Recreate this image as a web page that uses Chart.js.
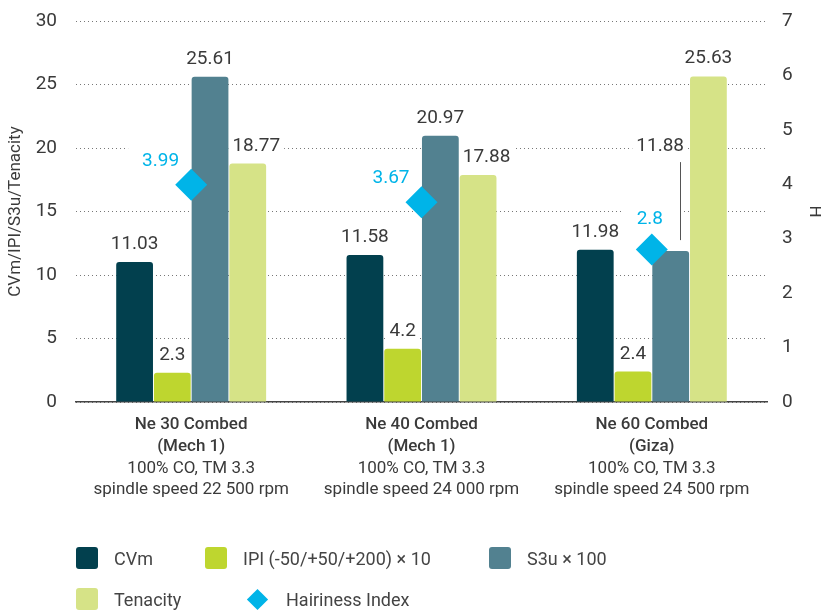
<!DOCTYPE html>
<html>
<head>
<meta charset="utf-8">
<script src="https://cdn.jsdelivr.net/npm/chart.js@4.4.0/dist/chart.umd.min.js"></script>
<style>
  body { margin: 0; background: #fff; }
  #wrap { position: relative; width: 821px; height: 612px; }
  #legend { position: absolute; left: 0; top: 0; font: 18px Roboto, sans-serif; color: #444; }
  .item { position: absolute; display: flex; align-items: center; height: 22px; white-space: nowrap; }
  .box { width: 22px; height: 22px; border-radius: 3px; margin-right: 16px; }
  .diamond { width: 15px; height: 15px; background: #00b4e8; transform: rotate(45deg); margin: 0 21px 0 3px; }
</style>
</head>
<body>
<div id="wrap">
  <canvas id="chart"></canvas>
  <div id="legend"></div>
</div>
<script>
const categories = [
  ['Ne 30 Combed', '(Mech 1)', '100% CO, TM 3.3', 'spindle speed 22 500 rpm'],
  ['Ne 40 Combed', '(Mech 1)', '100% CO, TM 3.3', 'spindle speed 24 000 rpm'],
  ['Ne 60 Combed', '(Giza)', '100% CO, TM 3.3', 'spindle speed 24 500 rpm']
];
const cvm = [11.03, 11.58, 11.98];
const ipi = [2.3, 4.2, 2.4];
const s3u = [25.61, 20.97, 11.88];
const tenacity = [18.77, 17.88, 25.63];
const hairiness = [3.99, 3.67, 2.8];
const leftTicks = [0, 5, 10, 15, 20, 25, 30];
const rightTicks = [0, 1, 2, 3, 4, 5, 6, 7];

const COLORS = {
  cvm: '#02404e',
  ipi: '#bed62f',
  s3u: '#528190',
  tenacity: '#d6e387',
  hi: '#00b4e8'
};
const FONT = 'Roboto, sans-serif';
const LABEL_FONT = '19px ' + FONT;
const TEXT = '#3a3a3a';

// label boxes computed once per draw, used for backdrops and text
let labelLayout = [];

function layoutLabels(chart) {
  const ctx = chart.ctx;
  ctx.save();
  ctx.font = LABEL_FONT;
  const out = [];
  const barBoxes = [];
  for (let j = 0; j < categories.length; j++) {
    const els = [0, 1, 2, 3].map(i => chart.getDatasetMeta(i).data[j]);
    els.forEach((el, i) => {
      const value = chart.data.datasets[i].data[j];
      const text = String(value);
      const w = ctx.measureText(text).width;
      let cx = el.x;
      let base = el.y - 13;
      let leader = null;
      const ln = els[i - 1];
      const rn = els[i + 1];
      if (ln && ln.y < el.y - 5 && cx - w / 2 < ln.x + ln.width / 2 + 2) {
        cx = ln.x + ln.width / 2 + 4 + w / 2;
      } else if (rn && rn.y < el.y - 5 && cx + w / 2 > rn.x - rn.width / 2) {
        const right = rn.x - rn.width / 2 - 6;
        cx = right - w / 2;
        base = el.y - 100;
        leader = { x: right - 4, y1: base + 11, y2: el.y - 11 };
      }
      const box = { x1: cx - w / 2, x2: cx + w / 2, y1: base - 14, y2: base };
      barBoxes.push(box);
      out.push({ text, x: cx, y: base, color: TEXT, leader,
        bg: { x1: box.x1 - 4, x2: box.x2 + 4, y1: box.y1 - 4, y2: box.y2 + 4 } });
    });
  }
  const hiMeta = chart.getDatasetMeta(4);
  hiMeta.data.forEach((pt, j) => {
    const text = String(hairiness[j]);
    const w = ctx.measureText(text).width;
    let box = { x1: pt.x - 12 - w, x2: pt.x - 12, y1: pt.y - 19 - 14, y2: pt.y - 19 };
    const hit = barBoxes.some(b => b.x1 < box.x2 && b.x2 > box.x1 && b.y1 < box.y2 && b.y2 > box.y1);
    let cx = pt.x - 12 - w / 2;
    let base = pt.y - 19;
    if (hit) {
      cx = pt.x - 2;
      base = pt.y - 26;
      box = { x1: cx - w / 2, x2: cx + w / 2, y1: base - 14, y2: base };
    }
    out.push({ text, x: cx, y: base, color: COLORS.hi, leader: null,
      bg: { x1: box.x1 - 14, x2: box.x2 + 14, y1: box.y1 - 9, y2: box.y2 + 3 } });
  });
  ctx.restore();
  return out;
}

const labelPlugin = {
  id: 'valueLabels',
  beforeDatasetsDraw(chart) {
    labelLayout = layoutLabels(chart);
    const ctx = chart.ctx;
    ctx.save();
    ctx.fillStyle = '#fff';
    labelLayout.forEach(l => {
      ctx.fillRect(l.bg.x1, l.bg.y1, l.bg.x2 - l.bg.x1, l.bg.y2 - l.bg.y1);
    });
    ctx.restore();
  },
  afterDatasetsDraw(chart) {
    const ctx = chart.ctx;
    ctx.save();
    ctx.font = LABEL_FONT;
    ctx.textAlign = 'center';
    ctx.textBaseline = 'alphabetic';
    labelLayout.forEach(l => {
      ctx.fillStyle = l.color;
      ctx.fillText(l.text, l.x, l.y);
      if (l.leader) {
        ctx.strokeStyle = '#555';
        ctx.lineWidth = 1;
        ctx.beginPath();
        ctx.moveTo(Math.round(l.leader.x) + 0.5, l.leader.y1);
        ctx.lineTo(Math.round(l.leader.x) + 0.5, l.leader.y2);
        ctx.stroke();
      }
    });
    ctx.restore();
  },
  afterDraw(chart) {
    const ctx = chart.ctx;
    const xs = chart.scales.x;
    const area = chart.chartArea;
    ctx.save();
    ctx.fillStyle = TEXT;
    ctx.textAlign = 'center';
    ctx.textBaseline = 'middle';
    categories.forEach((lines, j) => {
      const x = xs.getPixelForValue(j);
      lines.forEach((line, k) => {
        ctx.font = (k < 2 ? '500 ' : '') + '17px ' + FONT;
        ctx.fillText(line, x, area.bottom + 23 + k * 21.7);
      });
    });
    // axis titles
    const midY = (area.top + area.bottom) / 2;
    ctx.font = '17px ' + FONT;
    ctx.translate(16, midY);
    ctx.rotate(-Math.PI / 2);
    ctx.fillText('CVm/IPI/S3u/Tenacity', 0, 0);
    ctx.setTransform(1, 0, 0, 1, 0, 0);
    ctx.translate(814, midY);
    ctx.rotate(Math.PI / 2);
    ctx.fillText('H', 0, 0);
    ctx.restore();
  }
};

function barSet(label, data, color) {
  return {
    type: 'bar',
    label,
    data,
    backgroundColor: color,
    borderWidth: 0,
    borderRadius: 3,
    borderSkipped: 'bottom',
    yAxisID: 'y',
    order: 1,
    categoryPercentage: 0.655,
    barPercentage: 0.975
  };
}

function fitSide(width) {
  return axis => {
    axis.width = width;
    axis.paddingTop = 0;
    axis.paddingBottom = 0;
  };
}

new Chart(document.getElementById('chart'), {
  type: 'bar',
  data: {
    labels: categories.map(c => c[0]),
    datasets: [
      barSet('CVm', cvm, COLORS.cvm),
      barSet('IPI (-50/+50/+200) × 10', ipi, COLORS.ipi),
      barSet('S3u × 100', s3u, COLORS.s3u),
      barSet('Tenacity', tenacity, COLORS.tenacity),
      {
        type: 'line',
        label: 'Hairiness Index',
        data: hairiness,
        yAxisID: 'y2',
        showLine: false,
        pointStyle: 'rectRot',
        pointRadius: 16,
        pointHoverRadius: 16,
        pointBackgroundColor: COLORS.hi,
        pointBorderWidth: 0,
        backgroundColor: COLORS.hi,
        order: 0
      }
    ]
  },
  options: {
    responsive: true,
    maintainAspectRatio: false,
    animation: false,
    events: [],
    layout: { padding: { top: 21, bottom: 210, left: 0, right: 0 } },
    plugins: {
      legend: { display: false },
      tooltip: { enabled: false }
    },
    scales: {
      x: {
        grid: { display: false, drawTicks: false },
        border: { display: true, color: '#444', width: 1.5 },
        ticks: { display: false },
        afterFit: axis => { axis.height = 0; }
      },
      y: {
        min: 0,
        max: 30,
        afterBuildTicks: axis => { axis.ticks = leftTicks.map(v => ({ value: v })); },
        afterFit: fitSide(76),
        grid: { color: '#777', lineWidth: 1, drawTicks: false },
        border: { display: false, dash: [1, 3] },
        ticks: { color: TEXT, font: { family: FONT, size: 19 }, padding: 19 }
      },
      y2: {
        position: 'right',
        min: 0,
        max: 7,
        afterBuildTicks: axis => { axis.ticks = rightTicks.map(v => ({ value: v })); },
        afterFit: fitSide(54),
        grid: { display: false, drawTicks: false },
        border: { display: false },
        ticks: { color: TEXT, font: { family: FONT, size: 19 }, padding: 15 }
      }
    }
  },
  plugins: [labelPlugin]
});

// legend, laid out like the original two rows
const legendItems = [
  { label: 'CVm', color: COLORS.cvm, left: 76, top: 547 },
  { label: 'IPI (-50/+50/+200) × 10', color: COLORS.ipi, left: 205, top: 547 },
  { label: 'S3u × 100', color: COLORS.s3u, left: 489, top: 547 },
  { label: 'Tenacity', color: COLORS.tenacity, left: 76, top: 588 },
  { label: 'Hairiness Index', color: COLORS.hi, left: 247, top: 588, diamond: true }
];
const legend = document.getElementById('legend');
legendItems.forEach(it => {
  const div = document.createElement('div');
  div.className = 'item';
  div.style.left = it.left + 'px';
  div.style.top = it.top + 'px';
  const mark = document.createElement('span');
  mark.className = it.diamond ? 'diamond' : 'box';
  if (!it.diamond) mark.style.background = it.color;
  const txt = document.createElement('span');
  txt.textContent = it.label;
  div.appendChild(mark);
  div.appendChild(txt);
  legend.appendChild(div);
});
</script>
</body>
</html>
